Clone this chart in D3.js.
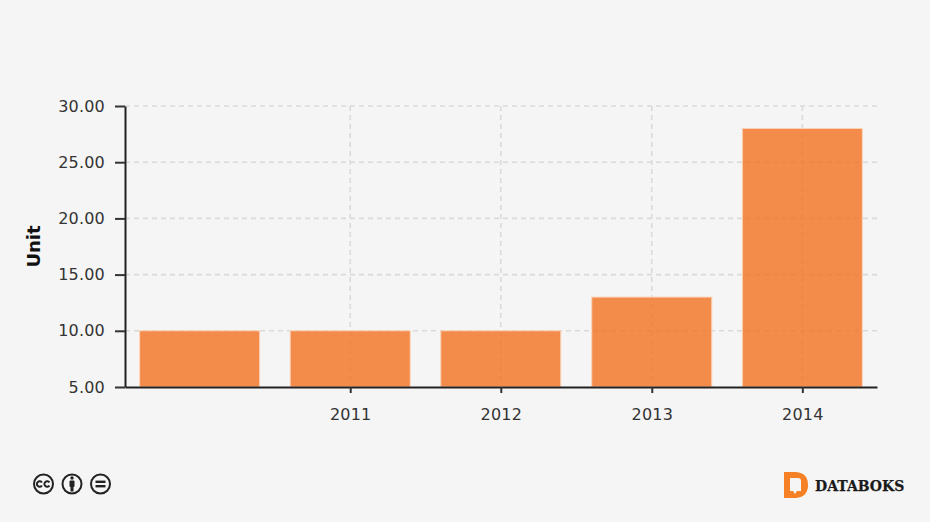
<!DOCTYPE html>
<html>
<head>
<meta charset="utf-8">
<script src="https://cdn.jsdelivr.net/npm/d3@7"></script>
<style>
  html, body { margin: 0; padding: 0; background: #f5f5f5; }
  svg { display: block; }
  text { font-family: "DejaVu Sans", sans-serif; fill: #333; }
</style>
</head>
<body>
<div id="canvas"></div>
<script>
(function (d3) {
  'use strict';

  const years = [2010, 2011, 2012, 2013, 2014];
  const values = [10, 10, 10, 13, 28];
  const xTickYears = [2011, 2012, 2013, 2014];
  const yTicks = [5, 10, 15, 20, 25, 30];
  const yLabel = 'Unit';
  const brand = 'DATABOKS';

  const width = 930;
  const height = 522;
  const left = 125;
  const right = 877;
  const top = 106;
  const bottom = 387;
  const barWidth = 120;

  const svg = d3.select('#canvas')
    .append('svg')
    .attr('width', width)
    .attr('height', height);

  svg.append('rect')
    .attr('width', width)
    .attr('height', height)
    .attr('fill', '#f5f5f5');

  const toDate = (y) => new Date(y, 0, 1);

  const x = d3.scaleTime()
    .domain([new Date(2009, 6, 4), new Date(2014, 6, 1)])
    .range([left, right]);

  const y = d3.scaleLinear()
    .domain([5, 30])
    .range([bottom, top]);

  // grid
  const grid = svg.append('g')
    .attr('stroke', '#dadada')
    .attr('stroke-width', 1.6)
    .attr('stroke-dasharray', '5,4');

  grid.selectAll('.h')
    .data(yTicks.filter((d) => d !== 5))
    .enter()
    .append('line')
    .attr('x1', left)
    .attr('x2', right)
    .attr('y1', (d) => y(d))
    .attr('y2', (d) => y(d));

  grid.selectAll('.v')
    .data(xTickYears)
    .enter()
    .append('line')
    .attr('x1', (d) => x(toDate(d)))
    .attr('x2', (d) => x(toDate(d)))
    .attr('y1', top)
    .attr('y2', bottom);

  // bars
  svg.selectAll('.bar')
    .data(years)
    .enter()
    .append('rect')
    .attr('x', (d) => x(toDate(d)) - barWidth / 2)
    .attr('y', (d, i) => y(values[i]))
    .attr('width', barWidth)
    .attr('height', (d, i) => y(5) - y(values[i]))
    .attr('fill', '#f37021')
    .attr('fill-opacity', 0.8)
    .attr('stroke', '#fbd3b8')
    .attr('stroke-width', 1);

  // axes
  const xAxis = d3.axisBottom(x)
    .tickValues(xTickYears.map(toDate))
    .tickFormat(d3.timeFormat('%Y'))
    .tickSizeInner(6)
    .tickSizeOuter(0)
    .tickPadding(16);

  const yAxis = d3.axisLeft(y)
    .tickValues(yTicks)
    .tickFormat(d3.format('.2f'))
    .tickSizeInner(10)
    .tickSizeOuter(0)
    .tickPadding(10);

  const gx = svg.append('g')
    .attr('transform', `translate(0,${bottom})`)
    .call(xAxis);

  const gy = svg.append('g')
    .attr('transform', `translate(${left},0)`)
    .call(yAxis);

  [gx, gy].forEach((g) => {
    g.selectAll('text')
      .style('font-size', '16px')
      .style('letter-spacing', '0.2px')
      .attr('fill', '#333');
    g.selectAll('line').attr('stroke', '#333').attr('stroke-width', 2);
    g.select('.domain').attr('stroke', '#222').attr('stroke-width', 2);
  });

  svg.append('text')
    .attr('transform', 'translate(40,246.5) rotate(-90)')
    .attr('text-anchor', 'middle')
    .style('font-size', '18px')
    .style('font-weight', 'bold')
    .style('fill', '#111')
    .text(yLabel);

  // licence icons
  const icons = svg.append('g')
    .attr('fill', 'none')
    .attr('stroke', '#222');

  [43.5, 72, 100.5].forEach((cx) => {
    icons.append('circle')
      .attr('cx', cx)
      .attr('cy', 484)
      .attr('r', 9.5)
      .attr('stroke-width', 2);
  });

  // cc
  [39.5, 47].forEach((cx) => {
    icons.append('path')
      .attr('d', `M${cx + 2.4},482.6 A2.7,2.7 0 1,0 ${cx + 2.4},485.4`)
      .attr('stroke-width', 2);
  });

  // person
  icons.append('circle').attr('cx', 72).attr('cy', 478).attr('r', 1.7).attr('fill', '#222').attr('stroke', 'none');
  icons.append('rect').attr('x', 69.5).attr('y', 480.5).attr('width', 5).attr('height', 6.5).attr('rx', 1).attr('fill', '#222').attr('stroke', 'none');
  icons.append('rect').attr('x', 70.5).attr('y', 486).attr('width', 3).attr('height', 5.5).attr('fill', '#222').attr('stroke', 'none');

  // equals
  [481.8, 486.2].forEach((ly) => {
    icons.append('line')
      .attr('x1', 95.5).attr('x2', 105.5)
      .attr('y1', ly).attr('y2', ly)
      .attr('stroke-width', 2.4);
  });

  // brand mark
  svg.append('path')
    .attr('fill-rule', 'evenodd')
    .attr('fill', '#f58025')
    .attr('d', 'M784,472 H796 Q808,473 808,485 Q808,497 796,498 H784 Z M790,478 V491 H793 L795,494 L797,491 H801 V481 Q801,478 798,478 Z');

  svg.append('text')
    .attr('x', 815)
    .attr('y', 491)
    .style('font-family', '"DejaVu Serif", serif')
    .style('font-weight', 'bold')
    .style('font-size', '14px')
    .style('fill', '#1a1a1a')
    .style('stroke', '#1a1a1a')
    .style('stroke-width', 0.25)
    .text(brand);

}(d3));
</script>
</body>
</html>
